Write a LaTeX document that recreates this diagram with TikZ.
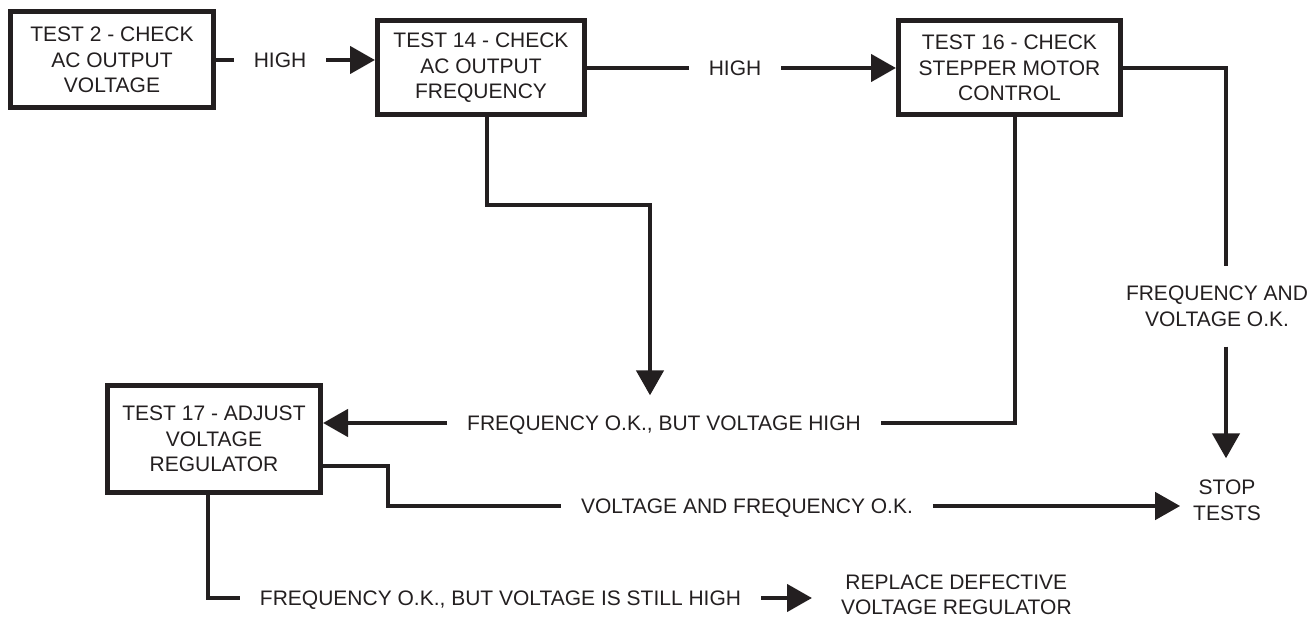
\documentclass[tikz,border=0pt]{standalone}
\usepackage{fontspec}
\setmainfont{Liberation Sans}
\usetikzlibrary{arrows.meta,positioning}
\definecolor{ink}{HTML}{231F20}

\begin{document}
\begin{tikzpicture}[x=1pt, y=-1pt, line join=miter, font=\fontsize{21}{25.5}\selectfont]
    \tikzset{
        testBox/.style={draw=ink, line width=5pt, align=center, inner sep=0pt, text=ink},
        wire/.style={draw=ink, line width=4.5pt},
        flow/.style={wire, -{Triangle[length=25pt,width=27pt]}},
        branch/.style={inner xsep=20pt, inner ysep=20pt, text height=15.3pt, text depth=0pt, text=ink, outer sep=0pt},
        twoLine/.style={align=center, inner xsep=20pt, inner ysep=20pt, text=ink, outer sep=0pt}
    }

    \useasboundingbox (0,0) rectangle (1312,617);

    % Test boxes
    \node[testBox, minimum width=203pt, minimum height=96pt] (T2) at (112,60) {TEST 2 - CHECK\\AC OUTPUT\\VOLTAGE};
    \node[testBox, minimum width=207pt, minimum height=94pt] (T14) at (481,68) {TEST 14 - CHECK\\AC OUTPUT\\FREQUENCY};
    \node[testBox, minimum width=222pt, minimum height=94pt] (T16) at (1009.5,68) {TEST 16 - CHECK\\STEPPER MOTOR\\CONTROL};
    \node[testBox, minimum width=213pt, minimum height=107pt] (T17) at (214,439) {TEST 17 - ADJUST\\VOLTAGE\\REGULATOR};

    % Branch labels
    \node[branch] (high1) at (280,60) {HIGH};
    \node[branch] (high2) at (735,68) {HIGH};
    \node[branch] (fokHigh) at (664,423) {FREQUENCY O.K., BUT VOLTAGE HIGH};
    \node[twoLine] (fvOk) at (1217,306.5) {FREQUENCY AND\\VOLTAGE O.K.};
    \node[branch] (vfOk) at (747,506) {VOLTAGE AND FREQUENCY O.K.};
    \node[branch] (fokStill) at (500.5,598) {FREQUENCY O.K., BUT VOLTAGE IS STILL HIGH};

    % End results
    \node[twoLine, inner xsep=13pt, inner ysep=22pt] (stop) at (1227,500.5) {STOP\\TESTS};
    \node[twoLine, inner xsep=29pt, anchor=west] (replace) at (812,595) {REPLACE DEFECTIVE\\VOLTAGE REGULATOR};

    % Bends
    \coordinate (k1) at (487,205);
    \coordinate (k2) at (650,205);
    \coordinate (k3) at (1015,423);
    \coordinate (k4) at (1226,68);
    \coordinate (k5) at (388,466);
    \coordinate (k6) at (388,506);
    \coordinate (k7) at (208,598);

    % Top row
    \draw[wire] (T2.east |- high1) -- (high1.west);
    \draw[flow] (high1.east) -- (high1.east -| T14.west);
    \draw[wire] (T14.east) -- (high2.west);
    \draw[flow] (high2.east) -- (T16.west);

    % Frequency o.k., voltage high
    \draw[flow] (k1 |- T14.south) -- (k1) -- (k2) -- (k2 |- fokHigh.north);
    \draw[wire] (k3 |- T16.south) -- (k3) -- (fokHigh.east);
    \draw[flow] (fokHigh.west) -- (fokHigh.west -| T17.east);

    % Everything o.k.
    \draw[wire] (T16.east) -- (k4) -- (k4 |- fvOk.north);
    \draw[flow] (k4 |- fvOk.south) -- (k4 |- stop.north);
    \draw[wire] (k5 -| T17.east) -- (k5) -- (k6) -- (vfOk.west);
    \draw[flow] (vfOk.east) -- (vfOk.east -| stop.west);

    % Still high
    \draw[wire] (k7 |- T17.south) -- (k7) -- (fokStill.west);
    \draw[flow] (fokStill.east) -- (fokStill.east -| replace.west);
\end{tikzpicture}
\end{document}
